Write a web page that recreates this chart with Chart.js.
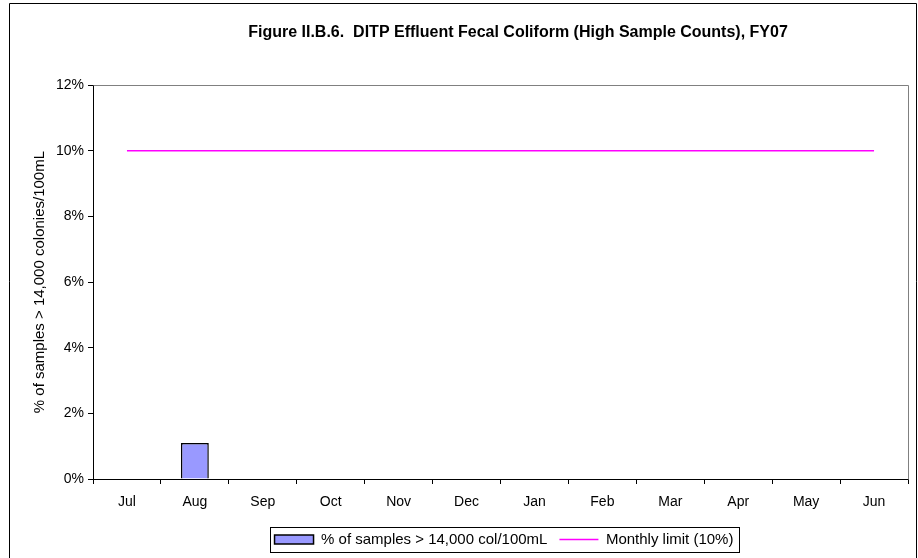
<!DOCTYPE html>
<html>
<head>
<meta charset="utf-8">
<script src="https://cdn.jsdelivr.net/npm/chart.js@4/dist/chart.umd.min.js"></script>
<style>
  html, body { margin: 0; padding: 0; background: #fff; }
  #wrap { width: 918px; height: 558px; position: relative; }
</style>
</head>
<body>
<div id="wrap"><canvas id="chart"></canvas></div>
<script>
const months = ['Jul', 'Aug', 'Sep', 'Oct', 'Nov', 'Dec', 'Jan', 'Feb', 'Mar', 'Apr', 'May', 'Jun'];
const pctHighSamples = [0, 1.1, 0, 0, 0, 0, 0, 0, 0, 0, 0, 0];
const monthlyLimit = [10, 10, 10, 10, 10, 10, 10, 10, 10, 10, 10, 10];
const yTicks = [0, 2, 4, 6, 8, 10, 12];

const FONT = '"Liberation Sans", Arial, sans-serif';

// frame, gray top/right plot border, box round the legend
const decorations = {
    id: 'decorations',
    afterLayout(chart) {
        const lg = chart.legend;
        lg.left += 50;
        lg.right += 50;
        lg.top += 3;
        lg.bottom += 3;
        const tb = chart.titleBlock;
        tb.left += 64;
        tb.right += 64;
    },
    afterDraw(chart) {
        const ctx = chart.ctx;
        const a = chart.chartArea;
        ctx.save();
        ctx.strokeStyle = '#808080';
        ctx.lineWidth = 1;
        ctx.beginPath();
        ctx.moveTo(Math.round(a.left) + 0.5, Math.round(a.top) + 0.5);
        ctx.lineTo(Math.round(a.right) + 0.5, Math.round(a.top) + 0.5);
        ctx.lineTo(Math.round(a.right) + 0.5, Math.round(a.bottom) + 0.5);
        ctx.stroke();

        ctx.strokeStyle = '#000';
        ctx.beginPath();
        ctx.moveTo(9.5, 560);
        ctx.lineTo(9.5, 3.5);
        ctx.lineTo(916.5, 3.5);
        ctx.lineTo(916.5, 560);
        ctx.stroke();

        const boxes = chart.legend.legendHitBoxes;
        if (boxes && boxes.length) {
            const l = Math.min(...boxes.map(b => b.left)) - 5;
            const r = Math.max(...boxes.map(b => b.left + b.width)) + 5;
            const t = Math.min(...boxes.map(b => b.top)) - 5;
            const btm = Math.max(...boxes.map(b => b.top + b.height)) + 5;
            ctx.strokeStyle = '#000';
            ctx.strokeRect(Math.round(l) + 0.5, Math.round(t) + 0.5, Math.round(r - l), Math.round(btm - t));
        }
        ctx.restore();
    }
};

new Chart(document.getElementById('chart'), {
    type: 'bar',
    data: {
        labels: months,
        datasets: [{
            type: 'bar',
            label: '% of samples > 14,000 col/100mL',
            data: pctHighSamples,
            backgroundColor: '#9999FF',
            borderColor: '#000000',
            borderWidth: 1.5,
            barPercentage: 0.41,
            categoryPercentage: 1,
            pointStyle: 'rect'
        }, {
            type: 'line',
            label: 'Monthly limit (10%)',
            data: monthlyLimit,
            borderColor: '#FF00FF',
            backgroundColor: '#FF00FF',
            borderWidth: 1.5,
            pointRadius: 0,
            pointStyle: 'line',
            fill: false
        }]
    },
    options: {
        responsive: true,
        maintainAspectRatio: false,
        animation: false,
        layout: { padding: { left: 0, right: 10, top: 0, bottom: 4 } },
        plugins: {
            title: {
                display: true,
                text: 'Figure II.B.6.  DITP Effluent Fecal Coliform (High Sample Counts), FY07',
                color: '#000',
                font: { family: FONT, size: 16, weight: 'bold', lineHeight: 1.2 },
                padding: { top: 23, bottom: 43 }
            },
            legend: {
                position: 'bottom',
                labels: {
                    color: '#000',
                    font: { family: FONT, size: 15 },
                    usePointStyle: true,
                    pointStyleWidth: 39,
                    boxHeight: 9,
                    padding: 12
                }
            },
            tooltip: { enabled: false }
        },
        scales: {
            x: {
                offset: true,
                grid: { display: true, drawOnChartArea: false, drawTicks: true, tickLength: 5, color: '#000', offset: true },
                border: { display: true, color: '#000', width: 1 },
                ticks: { color: '#000', font: { family: FONT, size: 14 }, padding: 10, maxRotation: 0 },
                afterFit(s) { s.height = 558 - 479 - s.chart.legend.height - 4; }
            },
            y: {
                min: 0,
                max: 12,
                afterBuildTicks(s) { s.ticks = yTicks.map(v => ({ value: v })); },
                grid: { display: true, drawOnChartArea: false, drawTicks: true, tickLength: 5, color: '#000' },
                border: { display: true, color: '#000', width: 1 },
                ticks: { color: '#000', font: { family: FONT, size: 14 }, padding: 4, callback: v => v + '%' },
                title: {
                    display: true,
                    text: '% of samples > 14,000 colonies/100mL',
                    color: '#000',
                    font: { family: FONT, size: 15 },
                    padding: { top: 31, bottom: 0 }
                },
                afterFit(s) { s.width = 93; }
            }
        }
    },
    plugins: [decorations]
});
</script>
</body>
</html>
